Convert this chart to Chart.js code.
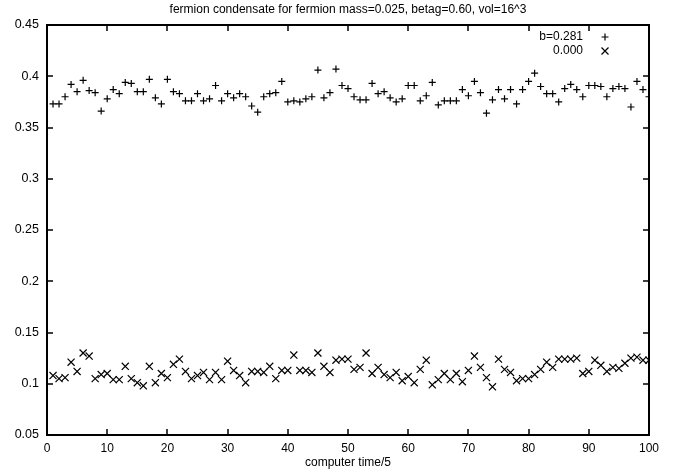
<!DOCTYPE html>
<html>
<head>
<meta charset="utf-8">
<title>fermion condensate</title>
<script src="https://cdn.jsdelivr.net/npm/chart.js@4.4.1/dist/chart.umd.min.js"></script>
<style>
  html, body { margin: 0; padding: 0; background: #fff; }
  #wrap { width: 673px; height: 472px; position: relative; }
</style>
</head>
<body>
<div id="wrap"><canvas id="myChart"></canvas></div>
<script>
// measurement index (computer time / 5)
const steps = [
  1, 2, 3, 4, 5, 6, 7, 8, 9, 10, 11, 12, 13, 14, 15, 16, 17, 18, 19, 20,
  21, 22, 23, 24, 25, 26, 27, 28, 29, 30, 31, 32, 33, 34, 35, 36, 37, 38, 39, 40,
  41, 42, 43, 44, 45, 46, 47, 48, 49, 50, 51, 52, 53, 54, 55, 56, 57, 58, 59, 60,
  61, 62, 63, 64, 65, 66, 67, 68, 69, 70, 71, 72, 73, 74, 75, 76, 77, 78, 79, 80,
  81, 82, 83, 84, 85, 86, 87, 88, 89, 90, 91, 92, 93, 94, 95, 96, 97, 98, 99, 100
];

// condensate at b=0.281
const condB0281 = [
  0.373, 0.373, 0.380, 0.392, 0.385, 0.396, 0.386, 0.384, 0.366, 0.378,
  0.387, 0.383, 0.394, 0.393, 0.385, 0.385, 0.397, 0.379, 0.373, 0.397,
  0.385, 0.383, 0.376, 0.376, 0.383, 0.376, 0.378, 0.391, 0.376, 0.383,
  0.379, 0.383, 0.380, 0.371, 0.365, 0.380, 0.383, 0.384, 0.395, 0.375,
  0.376, 0.375, 0.378, 0.380, 0.406, 0.379, 0.384, 0.407, 0.391, 0.388,
  0.380, 0.377, 0.377, 0.393, 0.383, 0.385, 0.379, 0.375, 0.378, 0.391,
  0.391, 0.376, 0.381, 0.394, 0.372, 0.376, 0.376, 0.376, 0.387, 0.381,
  0.395, 0.384, 0.364, 0.377, 0.387, 0.378, 0.387, 0.373, 0.387, 0.395,
  0.403, 0.390, 0.383, 0.383, 0.375, 0.388, 0.392, 0.387, 0.380, 0.391,
  0.391, 0.390, 0.380, 0.388, 0.390, 0.388, 0.370, 0.395, 0.387, 0.380
];

// condensate at b=0.000
const condB0000 = [
  0.108, 0.105, 0.106, 0.121, 0.112, 0.130, 0.127, 0.105, 0.109, 0.110,
  0.104, 0.104, 0.117, 0.105, 0.101, 0.098, 0.117, 0.101, 0.110, 0.106,
  0.119, 0.124, 0.112, 0.105, 0.108, 0.111, 0.104, 0.111, 0.104, 0.122,
  0.113, 0.108, 0.101, 0.112, 0.112, 0.111, 0.117, 0.105, 0.113, 0.113,
  0.128, 0.113, 0.113, 0.111, 0.130, 0.117, 0.111, 0.123, 0.124, 0.124,
  0.114, 0.116, 0.130, 0.110, 0.116, 0.109, 0.106, 0.111, 0.103, 0.107,
  0.101, 0.114, 0.123, 0.099, 0.104, 0.110, 0.104, 0.110, 0.102, 0.113,
  0.127, 0.116, 0.106, 0.097, 0.124, 0.114, 0.111, 0.103, 0.105, 0.105,
  0.109, 0.114, 0.121, 0.116, 0.124, 0.124, 0.124, 0.125, 0.110, 0.112,
  0.123, 0.118, 0.112, 0.116, 0.115, 0.120, 0.125, 0.126, 0.123, 0.123
];

const seriesLabels = ['b=0.281', '0.000'];
const chartTitle = 'fermion condensate for fermion mass=0.025, betag=0.60, vol=16^3';
const xTitle = 'computer time/5';

const FONT = "'Liberation Sans', Arial, Helvetica, sans-serif";
Chart.defaults.font.family = FONT;
Chart.defaults.font.size = 12;
Chart.defaults.color = '#000';

function toPoints(ys) {
  return steps.map((x, i) => ({ x: x, y: ys[i] }));
}

// gnuplot style frame: box on all four sides with inward ticks
const frameTicks = {
  id: 'frameTicks',
  afterDraw(chart) {
    const ctx = chart.ctx;
    const a = chart.chartArea;
    const xs = chart.scales.x, ys = chart.scales.y;
    const len = 6;
    ctx.save();
    ctx.strokeStyle = '#000';
    ctx.lineWidth = 1.5;
    ctx.beginPath();
    xs.ticks.forEach(t => {
      const px = Math.round(xs.getPixelForValue(t.value));
      ctx.moveTo(px, a.bottom); ctx.lineTo(px, a.bottom - len);
      ctx.moveTo(px, a.top); ctx.lineTo(px, a.top + len);
    });
    ys.ticks.forEach(t => {
      const py = Math.round(ys.getPixelForValue(t.value));
      ctx.moveTo(a.left, py); ctx.lineTo(a.left + len, py);
      ctx.moveTo(a.right, py); ctx.lineTo(a.right - len, py);
    });
    ctx.stroke();
    ctx.lineWidth = 2;
    ctx.strokeRect(a.left, a.top, a.right - a.left, a.bottom - a.top);
    ctx.restore();
  }
};

// key in the top right corner: label first, then the marker
const gnuKey = {
  id: 'gnuKey',
  afterDraw(chart) {
    const ctx = chart.ctx;
    const a = chart.chartArea;
    const textRight = a.right - 66;
    const markX = a.right - 44;
    ctx.save();
    ctx.font = '12px ' + FONT;
    ctx.fillStyle = '#000';
    ctx.textAlign = 'right';
    ctx.textBaseline = 'middle';
    chart.data.datasets.forEach((ds, i) => {
      const y = a.top + 12 + i * 14;
      ctx.fillText(ds.label, textRight, y);
      ctx.strokeStyle = '#000';
      ctx.lineWidth = 1.2;
      ctx.beginPath();
      if (ds.pointStyle === 'cross') {
        ctx.moveTo(markX - 3.5, y); ctx.lineTo(markX + 3.5, y);
        ctx.moveTo(markX, y - 3.5); ctx.lineTo(markX, y + 3.5);
      } else {
        ctx.moveTo(markX - 3.5, y - 3.5); ctx.lineTo(markX + 3.5, y + 3.5);
        ctx.moveTo(markX - 3.5, y + 3.5); ctx.lineTo(markX + 3.5, y - 3.5);
      }
      ctx.stroke();
    });
    ctx.restore();
  }
};

const ctx = document.getElementById('myChart').getContext('2d');

const myChart = new Chart(ctx, {
  type: 'scatter',
  data: {
    datasets: [
      {
        label: seriesLabels[0],
        data: toPoints(condB0281),
        pointStyle: 'cross',
        pointRadius: 3.5,
        pointHoverRadius: 3.5,
        borderColor: '#000',
        backgroundColor: '#000',
        borderWidth: 1.2
      },
      {
        label: seriesLabels[1],
        data: toPoints(condB0000),
        pointStyle: 'crossRot',
        pointRadius: 5,
        pointHoverRadius: 5,
        borderColor: '#000',
        backgroundColor: '#000',
        borderWidth: 1.2
      }
    ]
  },
  options: {
    responsive: true,
    maintainAspectRatio: false,
    animation: false,
    events: [],
    layout: {
      padding: { left: 0, right: 24, top: 0, bottom: 0 }
    },
    plugins: {
      legend: { display: false },
      tooltip: { enabled: false },
      title: {
        display: true,
        text: chartTitle,
        fullSize: false,
        color: '#000',
        font: { size: 12, weight: 'normal' },
        padding: { top: 2, bottom: 8.6 }
      }
    },
    scales: {
      x: {
        type: 'linear',
        min: 0,
        max: 100,
        grid: { display: false, drawTicks: false },
        border: { display: false },
        ticks: {
          stepSize: 10,
          padding: 6,
          maxRotation: 0,
          font: { size: 12 },
          color: '#000'
        },
        title: {
          display: true,
          text: xTitle,
          color: '#000',
          font: { size: 12 },
          padding: { top: 0, bottom: 2 }
        },
        afterFit: s => { s.height = 37; }
      },
      y: {
        type: 'linear',
        min: 0.05,
        max: 0.45,
        grid: { display: false, drawTicks: false },
        border: { display: false },
        ticks: {
          stepSize: 0.05,
          padding: 8,
          font: { size: 12.5 },
          color: '#000',
          callback: v => String(Number(v.toFixed(2)))
        },
        afterFit: s => { s.width = 47; }
      }
    }
  },
  plugins: [frameTicks, gnuKey]
});
</script>
</body>
</html>
